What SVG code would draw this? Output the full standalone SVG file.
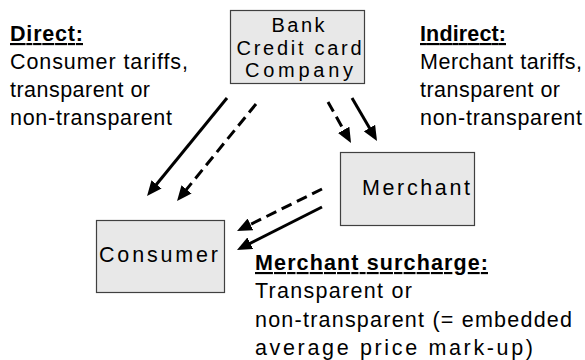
<svg xmlns="http://www.w3.org/2000/svg" width="585" height="360" viewBox="0 0 585 360">
<style>
.box{fill:#e8e8e8;stroke:#404040;stroke-width:1.2}
.t{font-family:"Liberation Sans",Arial,sans-serif;font-size:21.5px;fill:#000}
.bt{font-family:"Liberation Sans",Arial,sans-serif;font-size:20px;fill:#000}
.h{font-weight:bold;text-decoration:underline}
.a{stroke:#000;stroke-width:3;fill:none;marker-end:url(#ah)}
.d{stroke-dasharray:11 6}
</style>
<defs>
<marker id="ah" markerUnits="userSpaceOnUse" markerWidth="15" markerHeight="13" refX="7" refY="6.5" orient="auto">
<path d="M0,0 L15,6.5 L0,13 z" fill="#000"/>
</marker>
</defs>
<rect width="585" height="360" fill="#fff"/>
<g id="bank">
<rect class="box" x="230.5" y="10.5" width="134" height="73"/>
<text class="bt" x="298" y="32" text-anchor="middle" textLength="53" lengthAdjust="spacing">Bank</text>
<text class="bt" x="299" y="55" text-anchor="middle" textLength="125" lengthAdjust="spacing">Credit card</text>
<text class="bt" x="299" y="77" text-anchor="middle" textLength="108" lengthAdjust="spacing">Company</text>
</g>
<g id="merchant">
<rect class="box" x="340.5" y="152.5" width="134" height="73"/>
<text class="t" x="362" y="195" textLength="108" lengthAdjust="spacing">Merchant</text>
</g>
<g id="consumer">
<rect class="box" x="96.5" y="220.5" width="128" height="72"/>
<text class="t" x="99" y="262" textLength="119" lengthAdjust="spacing">Consumer</text>
</g>
<g id="direct-label">
<text class="t h" x="10" y="41" textLength="73" lengthAdjust="spacing">Direct:</text>
<text class="t" x="10" y="69" textLength="178" lengthAdjust="spacing">Consumer tariffs,</text>
<text class="t" x="10" y="97" textLength="140" lengthAdjust="spacing">transparent or</text>
<text class="t" x="10" y="125" textLength="162" lengthAdjust="spacing">non-transparent</text>
</g>
<g id="indirect-label">
<text class="t h" x="420" y="41" textLength="86" lengthAdjust="spacing">Indirect:</text>
<text class="t" x="420" y="69" textLength="162" lengthAdjust="spacing">Merchant tariffs,</text>
<text class="t" x="420" y="97" textLength="140" lengthAdjust="spacing">transparent or</text>
<text class="t" x="420" y="125" textLength="162" lengthAdjust="spacing">non-transparent</text>
</g>
<g id="surcharge-label">
<text class="t h" x="255" y="270" textLength="233" lengthAdjust="spacing">Merchant surcharge:</text>
<text class="t" x="255" y="298" textLength="157" lengthAdjust="spacing">Transparent or</text>
<text class="t" x="255" y="327" textLength="317" lengthAdjust="spacing">non-transparent (= embedded</text>
<text class="t" x="255" y="355" textLength="278" lengthAdjust="spacing">average price mark-up)</text>
</g>
<g id="connectors">
<line class="a" x1="227" y1="98" x2="152.1" y2="189.8"/>
<line class="a d" x1="256" y1="104" x2="182.1" y2="194.8"/>
<line class="a d" x1="328" y1="102" x2="347.1" y2="136"/>
<line class="a" x1="352" y1="98" x2="373" y2="134.1"/>
<line class="a d" x1="322" y1="189" x2="244.2" y2="227.5"/>
<line class="a" x1="322" y1="207" x2="244.1" y2="246.4"/>
</g>
</svg>
